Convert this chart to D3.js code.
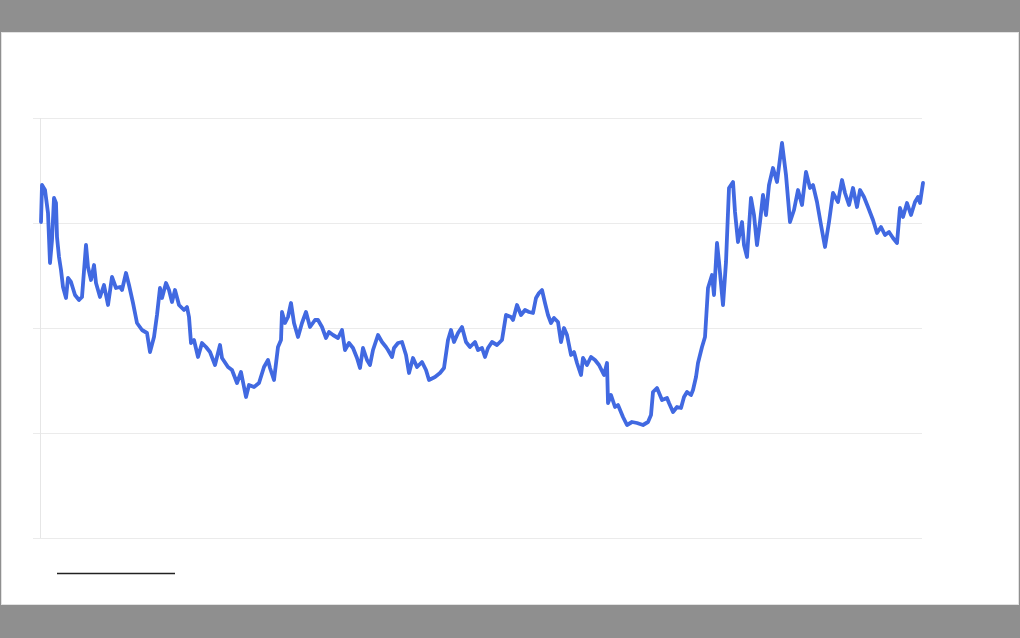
<!DOCTYPE html>
<html>
<head>
<meta charset="utf-8">
<script src="https://cdn.jsdelivr.net/npm/d3@7"></script>
<style>
  html, body { margin: 0; padding: 0; background: #8f8f8f; }
  svg { display: block; }
</style>
</head>
<body>
<svg id="chart" width="1020" height="638"></svg>
<script>
// period index (time) and index level values
const periods = [1,2,5,8,10,12,14,16,17,19,21,23,26,28,31,35,39,42,46,48,51,54,56,60,64,68,72,76,80,82,86,89,93,97,102,107,110,114,117,120,122,126,129,132,135,139,144,147,149,151,154,158,162,166,170,175,180,182,188,192,197,201,206,209,214,219,224,228,230,234,238,241,242,245,248,251,254,258,262,266,270,275,278,282,286,289,293,298,302,305,309,313,317,320,323,327,330,333,338,342,346,348,352,354,358,362,366,369,373,377,382,386,389,395,400,404,408,411,414,418,422,426,430,435,438,442,445,448,452,457,462,466,471,473,477,481,485,489,493,496,499,502,505,508,511,514,518,521,524,527,531,534,537,541,543,547,551,555,559,564,567,568,571,575,578,583,587,592,597,603,608,611,613,617,622,627,629,633,637,641,644,647,651,653,656,658,662,665,668,672,674,677,679,683,686,689,693,695,698,702,704,707,711,714,717,720,723,726,729,733,737,742,746,750,754,758,762,766,770,773,777,781,785,789,793,798,802,805,809,813,817,820,824,828,833,837,841,845,849,853,857,860,863,867,871,875,878,880,883];
const levels = [316,353,348,325,275,298,340,335,301,281,268,251,240,260,256,243,238,241,293,271,258,273,255,241,253,233,261,250,251,248,265,253,235,215,208,205,186,201,223,250,240,255,248,236,248,233,228,231,221,195,198,181,195,191,186,173,193,180,171,168,155,166,141,153,151,155,171,178,170,158,191,198,226,215,221,235,215,201,215,226,211,218,218,211,200,206,203,200,208,188,195,190,180,170,190,178,173,188,203,196,191,188,181,190,195,196,183,165,180,171,176,168,158,161,165,170,198,208,196,205,211,196,191,196,188,190,181,190,196,193,198,223,221,218,233,223,228,226,225,240,245,248,235,223,215,220,216,196,210,203,183,186,175,163,180,173,181,178,173,163,175,135,143,131,133,121,113,116,115,113,116,123,146,150,138,140,135,126,131,130,141,146,143,148,161,175,191,201,250,263,243,295,276,233,276,350,356,326,296,316,293,281,340,323,293,316,343,323,353,370,356,395,363,316,328,348,333,366,350,353,336,313,291,316,345,336,358,345,333,350,331,348,341,331,318,305,311,303,306,300,295,330,321,335,323,336,341,335,355];
const gridTicks = [0,105,210,315,420];

const svg = d3.select("#chart");
const W = 1020, H = 638;

// white card
svg.append("rect").attr("x", 1.5).attr("y", 32.5).attr("width", W - 3).attr("height", 572)
  .attr("fill", "#ffffff").attr("stroke", "#e2e2e2").attr("stroke-width", 1);

const x = d3.scaleLinear().domain([0, 883]).range([40, 923]);
const y = d3.scaleLinear().domain([0, 420]).range([538, 118]);

// gridlines
const grid = svg.append("g").attr("transform", "translate(33,0)")
  .call(d3.axisLeft(y).tickValues(gridTicks).tickSize(-889).tickFormat(""));
grid.select(".domain").remove();
grid.selectAll(".tick line").attr("stroke", "#ebebeb").attr("stroke-width", 1);

// vertical axis line
svg.append("line").attr("x1", 40.5).attr("x2", 40.5).attr("y1", y(420)).attr("y2", y(0))
  .attr("stroke", "#e6e6e6").attr("stroke-width", 1);

// series line
const data = periods.map((p, i) => ({ p, v: levels[i] }));
const line = d3.line().x(d => x(d.p)).y(d => y(d.v));
svg.append("path").datum(data).attr("d", line)
  .attr("fill", "none").attr("stroke", "#4169e1").attr("stroke-width", 3.8)
  .attr("stroke-linejoin", "round").attr("stroke-linecap", "round");

// legend-like rule
svg.append("line").attr("x1", 57).attr("x2", 175).attr("y1", 573.5).attr("y2", 573.5)
  .attr("stroke", "#222").attr("stroke-width", 1.3);
</script>
</body>
</html>
